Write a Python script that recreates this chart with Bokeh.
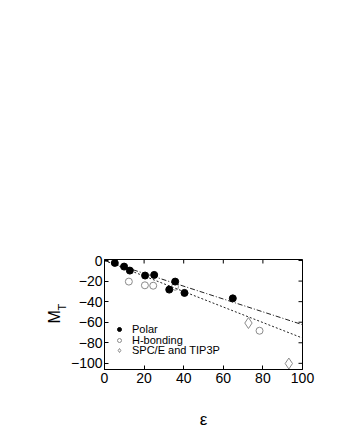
from bokeh.plotting import figure
from bokeh.models import Range1d, FixedTicker, Legend, LegendItem, Title
from bokeh.embed import file_html
from bokeh.resources import INLINE
import math

# ---- data ----
polar_eps = [5.2, 9.9, 12.8, 20.5, 25.1, 32.7, 35.7, 40.4, 64.8]
polar_mt = [-2.3, -5.9, -9.8, -14.6, -14.0, -28.3, -20.5, -31.5, -36.8]

hbond_eps = [12.3, 20.4, 24.6, 35.6, 78.3]
hbond_mt = [-20.5, -24.1, -24.5, -25.5, -68.3]

water_eps = [72.7, 93.1]
water_mt = [-60.8, -100.2]

fit_eps = [0, 100]
fit_dashdot_mt = [0, -62.4]
fit_dotted_mt = [0, -75.4]

x_ticks = [0, 20, 40, 60, 80, 100]
y_ticks = [-100, -80, -60, -40, -20, 0]

series_labels = ["Polar", "H-bonding", "SPC/E and TIP3P"]

FONT = "Liberation Sans"
X0, X1 = 0, 100
Y0, Y1 = -106, 1

p = figure(width=346, height=433, output_backend="svg", toolbar_location=None,
           x_range=Range1d(X0, X1), y_range=Range1d(Y0, Y1),
           min_border_left=104, min_border_right=44, min_border_top=259,
           min_border_bottom=64)
p.xgrid.visible = False
p.ygrid.visible = False
p.outline_line_color = "black"
p.outline_line_width = 1
p.background_fill_color = "white"

xax = p.xaxis[0]
yax = p.yaxis[0]
for ax, ticks in ((xax, x_ticks), (yax, y_ticks)):
    ax.ticker = FixedTicker(ticks=ticks)
    ax.major_tick_in = 4
    ax.major_tick_out = 0
    ax.minor_tick_line_color = None
    ax.major_tick_line_color = "black"
    ax.axis_line_color = "black"
    ax.major_label_text_font = FONT
    ax.major_label_text_font_size = "14px"
    ax.major_label_text_color = "black"
xax.major_label_standoff = 3
yax.major_label_standoff = 2

xax.axis_label = "ε"
xax.axis_label_text_font = FONT
xax.axis_label_text_font_style = "normal"
xax.axis_label_text_font_size = "17px"
xax.axis_label_text_color = "black"
xax.axis_label_standoff = 24

# y-axis title: "M" with subscript "T", as two side titles
t_sub = Title(text="T", align="left", offset=59, standoff=0,
              text_font=FONT, text_font_size="11px", text_font_style="normal",
              text_color="black")
t_main = Title(text="M", align="left", offset=46, standoff=-18,
               text_font=FONT, text_font_size="16px", text_font_style="normal",
               text_color="black")
p.add_layout(t_sub, "left")
p.add_layout(t_main, "left")

# mirrored inward ticks on top and right spines (half of each dash is clipped away)
p.scatter(x_ticks, [Y1] * len(x_ticks), marker="dash", size=8, angle=math.pi / 2,
          line_color="black", line_width=1)
p.scatter([X1] * len(y_ticks), y_ticks, marker="dash", size=8,
          line_color="black", line_width=1)

# fit lines
p.line(fit_eps, fit_dashdot_mt, line_color="#222222", line_width=1, line_dash="5 2 1 2")
p.line(fit_eps, fit_dotted_mt, line_color="#222222", line_width=1, line_dash="2 2")

r_h = p.scatter(hbond_eps, hbond_mt, marker="circle", size=7, fill_color=None,
                line_color="#8a8a8a", line_width=1)
r_w = p.scatter(water_eps, water_mt, marker="diamond", size=11, fill_color=None,
                line_color="#8a8a8a", line_width=1)
r_p = p.scatter(polar_eps, polar_mt, marker="circle", size=7, fill_color="black",
                line_color="black")

# one single-entry legend per series, so the row pitch can be tighter than Bokeh allows
for label, rend, ypos in zip(series_labels, [r_p, r_h, r_w], [34, 23, 13]):
    lg = Legend(items=[LegendItem(label=label, renderers=[rend])],
                location=(9, ypos), background_fill_alpha=0, border_line_color=None,
                label_text_font=FONT, label_text_font_size="11px",
                label_text_color="black",
                glyph_width=12, glyph_height=10, label_height=10, spacing=0,
                padding=0, margin=0, label_standoff=7)
    p.add_layout(lg, "center")

open("out.html", "w").write(file_html(p, INLINE))
